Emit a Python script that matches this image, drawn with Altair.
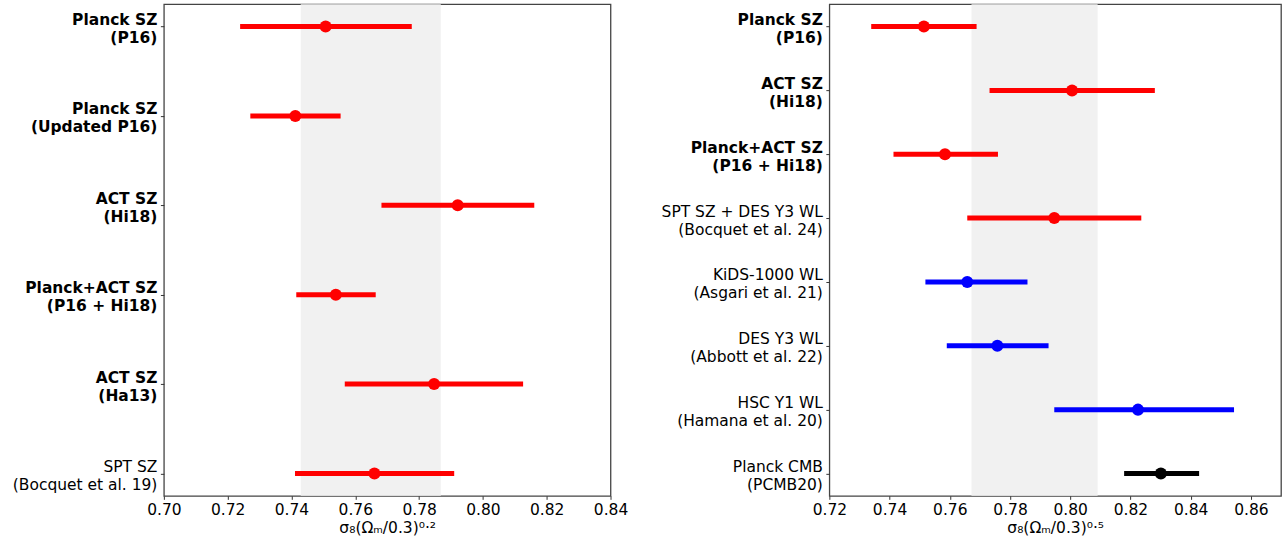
import altair as alt
import pandas as pd

# ---------------- data ----------------
left_labels = ["Planck SZ|(P16)", "Planck SZ|(Updated P16)", "ACT SZ|(Hi18)",
               "Planck+ACT SZ|(P16 + Hi18)", "ACT SZ|(Ha13)", "SPT SZ|(Bocquet et al. 19)"]
left_bold = ["Planck SZ|(P16)", "Planck SZ|(Updated P16)", "ACT SZ|(Hi18)",
             "Planck+ACT SZ|(P16 + Hi18)", "ACT SZ|(Ha13)"]
left_val = [0.7507, 0.7412, 0.7921, 0.7539, 0.7847, 0.7660]
left_lo = [0.7239, 0.7271, 0.7682, 0.7415, 0.7567, 0.7411]
left_hi = [0.7777, 0.7554, 0.8161, 0.7664, 0.8126, 0.7910]
left_col = ["#ff0000"] * 6
left_band = [0.7429, 0.7868]
left_domain = [0.70, 0.84]
left_ticks = [0.70, 0.72, 0.74, 0.76, 0.78, 0.80, 0.82, 0.84]

right_labels = ["Planck SZ|(P16)", "ACT SZ|(Hi18)", "Planck+ACT SZ|(P16 + Hi18)",
                "SPT SZ + DES Y3 WL|(Bocquet et al. 24)", "KiDS-1000 WL|(Asgari et al. 21)",
                "DES Y3 WL|(Abbott et al. 22)", "HSC Y1 WL|(Hamana et al. 20)",
                "Planck CMB|(PCMB20)"]
right_bold = ["Planck SZ|(P16)", "ACT SZ|(Hi18)", "Planck+ACT SZ|(P16 + Hi18)"]
right_val = [0.7514, 0.8006, 0.7584, 0.7947, 0.7658, 0.7758, 0.8225, 0.8301]
right_lo = [0.7339, 0.7732, 0.7413, 0.7658, 0.7519, 0.7590, 0.7947, 0.8179]
right_hi = [0.7689, 0.8281, 0.7760, 0.8236, 0.7858, 0.7928, 0.8544, 0.8428]
right_col = ["#ff0000"] * 4 + ["#0000ff"] * 3 + ["#000000"]
right_band = [0.7672, 0.8091]
right_domain = [0.72, 0.87]
right_ticks = [0.72, 0.74, 0.76, 0.78, 0.80, 0.82, 0.84, 0.86]

FONT = "DejaVu Sans"
FS = 15.5


def panel(labels, bold, val, lo, hi, col, band, domain, ticks, title, width, pad):
    df = pd.DataFrame({"label": labels, "val": val, "lo": lo, "hi": hi, "color": col})
    bdf = pd.DataFrame({"b0": [band[0]], "b1": [band[1]]})
    xscale = alt.Scale(domain=domain, nice=False, zero=False)
    bold_js = "[" + ",".join("'" + b + "'" for b in bold) + "]"
    yaxis = alt.Axis(
        title=None,
        labelExpr="split(datum.label, '|')",
        labelFontWeight={"condition": {"test": f"indexof({bold_js}, datum.value) >= 0",
                                       "value": "bold"}, "value": "normal"},
        labelLineHeight=18,
        labelFontSize=FS,
        labelFont=FONT,
        labelColor="#000000",
        labelOffset=-7,
        tickSize=3.5,
        tickColor="#333333",
        labelPadding=3.5,
        domain=False,
        grid=False,
        labelLimit=400,
    )
    y = alt.Y("label:N", sort=labels, scale=alt.Scale(type="point", padding=pad), axis=yaxis)
    xaxis = alt.Axis(
        title=title, values=ticks, format=".2f", labelFontSize=FS, labelFont=FONT,
        labelColor="#000000", titleFont=FONT, titleFontSize=FS, titleFontWeight="normal",
        titleColor="#000000", titlePadding=3, tickSize=3.5, tickColor="#333333",
        labelPadding=3, domain=False, grid=False, labelFlush=False,
    )
    bandm = alt.Chart(bdf).mark_rect(color="#f1f1f1").encode(
        x=alt.X("b0:Q", scale=xscale, axis=xaxis), x2="b1:Q")
    rule = alt.Chart(df).mark_rule(strokeWidth=5).encode(
        x=alt.X("lo:Q", scale=xscale), x2="hi:Q", y=y,
        color=alt.Color("color:N", scale=None))
    pts = alt.Chart(df).mark_point(filled=True, size=145, opacity=1).encode(
        x=alt.X("val:Q", scale=xscale), y=y,
        color=alt.Color("color:N", scale=None))
    return alt.layer(bandm, rule, pts).properties(width=width, height=492)


left = panel(left_labels, left_bold, left_val, left_lo, left_hi, left_col, left_band,
             left_domain, left_ticks, "σ₈(Ωₘ/0.3)⁰·²", 447, 0.25)
right = panel(right_labels, right_bold, right_val, right_lo, right_hi, right_col, right_band,
              right_domain, right_ticks, "σ₈(Ωₘ/0.3)⁰·⁵", 452, 0.35)

chart = alt.hconcat(left, right, spacing=219, bounds="flush").properties(
    padding={"left": 11, "top": 3, "right": 5, "bottom": 5}
).configure_view(stroke="#444444", strokeWidth=1.3)

chart.save("out.html", embed_options={"renderer": "svg", "actions": False})
